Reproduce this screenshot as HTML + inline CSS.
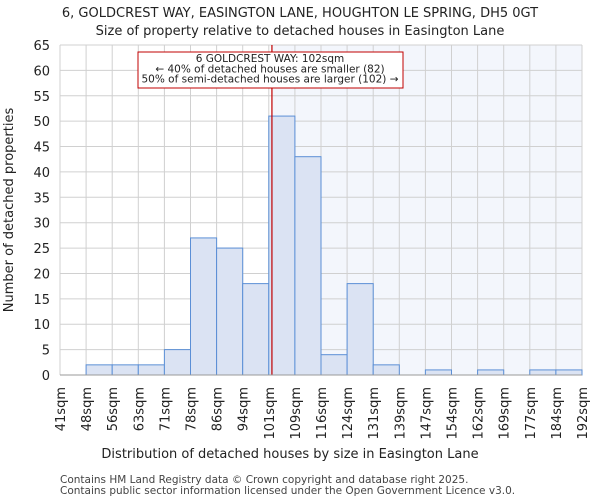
<!DOCTYPE html>
<html><head><meta charset="utf-8"><style>
body{margin:0;background:#fff;font-family:"DejaVu Sans","Liberation Sans",sans-serif}
svg text{font-family:"DejaVu Sans","Liberation Sans",sans-serif}
</style></head><body>
<svg id="c" width="600" height="500"></svg>
<script>
const binLabels=["41sqm","48sqm","56sqm","63sqm","71sqm","78sqm","86sqm","94sqm","101sqm","109sqm","116sqm","124sqm","131sqm","139sqm","147sqm","154sqm","162sqm","169sqm","177sqm","184sqm","192sqm"];
const counts=[0,2,2,2,5,27,25,18,51,43,4,18,2,0,1,0,1,0,1,1];
const yTicks=[0,5,10,15,20,25,30,35,40,45,50,55,60,65];
const propertyPos=8.12;
const NS="http://www.w3.org/2000/svg";
const svg=document.getElementById('c');
const L=60,R=582,T=45,B=375,yMax=65;
const bw=(R-L)/counts.length;
const xs=i=>L+i*bw;
const ys=v=>B-(v/yMax)*(B-T);
function el(t,a,txt){const e=document.createElementNS(NS,t);for(const k in a)e.setAttribute(k,a[k]);if(txt!==undefined)e.textContent=txt;svg.appendChild(e);return e;}
let e;
e=el('rect',{x:L,y:T,width:R-L,height:B-T,fill:'#fff'});


const px=xs(propertyPos);
e=el('rect',{x:px,y:T,width:R-px,height:B-T,fill:'#eef2fb',opacity:0.7});


yTicks.forEach(v=>{
 e=el('line',{x1:L,x2:R,y1:ys(v),y2:ys(v),stroke:'#d0d0d0','stroke-width':1});
 
 
 e=el('text',{x:L-10,y:ys(v)+5,'text-anchor':'end','font-size':13,fill:'#222'},v);
 
 
});
binLabels.forEach((s,i)=>{
 e=el('line',{x1:xs(i),x2:xs(i),y1:T,y2:B,stroke:'#d0d0d0','stroke-width':1});
 
 
 e=el('text',{x:0,y:0,'text-anchor':'end','font-size':13,fill:'#222',transform:`translate(${xs(i)+5},${B+12}) rotate(-90)`},s);
 
 
});
counts.forEach((v,i)=>{
 if(v<=0)return;
 e=el('rect',{x:xs(i),y:ys(v),width:bw,height:B-ys(v),fill:'#dbe3f3',stroke:'#5b8fd6','stroke-width':1});
 
 
});
e=el('line',{x1:px,x2:px,y1:T,y2:B,stroke:'#c00000','stroke-width':1.2});


e=el('rect',{x:138,y:52,width:265,height:36,fill:'#fff',stroke:'#c00000','stroke-width':1});


["6 GOLDCREST WAY: 102sqm","← 40% of detached houses are smaller (82)","50% of semi-detached houses are larger (102) →"].forEach((s,i)=>{
 e=el('text',{x:270,y:62+i*10.3,'text-anchor':'middle','font-size':10.5,fill:'#222'},s);
 
 
});
e=el('line',{x1:L,x2:R,y1:B,y2:B,stroke:'#999'});


e=el('text',{x:300,y:17,'text-anchor':'middle','font-size':13,fill:'#222'},"6, GOLDCREST WAY, EASINGTON LANE, HOUGHTON LE SPRING, DH5 0GT");


e=el('text',{x:300,y:35,'text-anchor':'middle','font-size':13,fill:'#222'},"Size of property relative to detached houses in Easington Lane");


e=el('text',{x:290,y:458,'text-anchor':'middle','font-size':13,fill:'#222'},"Distribution of detached houses by size in Easington Lane");


e=el('text',{x:0,y:0,'text-anchor':'middle','font-size':13,fill:'#222',transform:'translate(13,210) rotate(-90)'},"Number of detached properties");


e=el('text',{x:60,y:483,'font-size':10.5,fill:'#444'},"Contains HM Land Registry data © Crown copyright and database right 2025.");


e=el('text',{x:60,y:494,'font-size':10.5,fill:'#444'},"Contains public sector information licensed under the Open Government Licence v3.0.");


</script>
</body></html>
